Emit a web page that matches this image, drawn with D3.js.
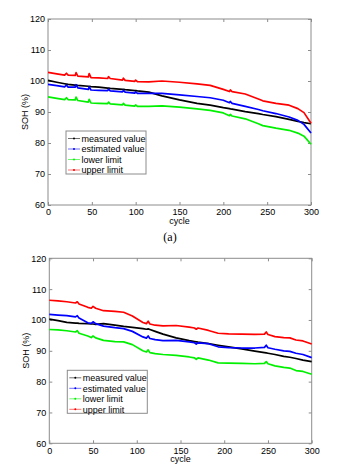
<!DOCTYPE html>
<html>
<head>
<meta charset="utf-8">
<script src="https://cdn.jsdelivr.net/npm/d3@7"></script>
<style>
  body { margin: 0; background: #fff; }
  text { font-family: "Liberation Sans", Arial, sans-serif; fill: #000; }
</style>
</head>
<body>
<svg id="chart" width="352" height="467"></svg>
<script>
// ---- data ----
const seriesNames = ["measured value", "estimated value", "lower limit", "upper limit"];
const xTicks = [0, 50, 100, 150, 200, 250, 300];
const yTicks = [60, 70, 80, 90, 100, 110, 120];

// chart (a)
const topCycles   = [0, 10, 19, 21, 23, 31, 32, 34, 46, 47, 49, 58, 68, 69, 71, 85, 86, 88, 99, 100, 102, 115, 130, 150, 170, 185, 200, 207, 208, 210, 225, 240, 245, 260, 275, 285, 292, 300];
const topMeasured = [100.2, 99.6, 99.1, 99.0, 98.9, 98.7, 98.7, 98.6, 98.3, 98.3, 98.2, 98.0, 97.7, 97.7, 97.6, 97.3, 97.3, 97.2, 96.9, 96.9, 96.8, 96.4, 95.2, 93.9, 92.8, 92.2, 91.4, 91.1, 91.0, 90.9, 90.1, 89.5, 89.2, 88.5, 87.6, 87.0, 86.6, 86.2];
const topEstimate = [98.9, 98.5, 98.1, 98.7, 98.0, 98.0, 98.8, 97.8, 97.3, 98.1, 97.1, 97.0, 96.9, 97.4, 96.8, 96.5, 97.0, 96.4, 96.1, 96.5, 96.0, 96.0, 96.0, 95.5, 95.0, 94.6, 93.8, 93.0, 93.4, 92.8, 91.8, 90.8, 90.4, 89.5, 88.4, 87.3, 86.0, 83.2];
const topLower    = [94.9, 94.4, 94.0, 94.6, 94.0, 93.9, 94.8, 93.7, 93.2, 94.1, 92.9, 92.8, 92.7, 93.2, 92.6, 92.3, 92.8, 92.2, 91.9, 92.3, 91.8, 91.8, 92.0, 91.6, 91.0, 90.5, 89.7, 88.8, 89.2, 88.7, 87.8, 86.2, 85.6, 84.8, 84.1, 83.2, 82.2, 79.6];
const topUpper    = [102.8, 102.3, 101.9, 102.5, 101.9, 101.8, 102.7, 101.6, 101.3, 102.4, 101.1, 101.0, 100.8, 101.4, 100.8, 100.3, 100.9, 100.2, 99.9, 100.3, 99.8, 99.7, 100.0, 99.6, 99.1, 98.6, 97.3, 96.6, 97.1, 96.6, 95.8, 94.2, 93.6, 92.8, 92.2, 91.1, 89.8, 86.4];

// chart (b)
const botCycles   = [0, 10, 20, 30, 32, 34, 44, 48, 50, 53, 62, 75, 85, 95, 107, 111, 113, 115, 121, 130, 145, 160, 166, 168, 170, 182, 193, 205, 220, 235, 246, 248, 250, 258, 268, 275, 282, 290, 300];
const botMeasured = [100.3, 99.8, 99.2, 99.0, 99.0, 98.9, 98.8, 98.7, 98.7, 98.6, 98.8, 98.3, 97.9, 97.6, 97.2, 97.0, 97.1, 96.9, 96.3, 95.4, 94.2, 93.3, 93.0, 92.9, 92.8, 92.3, 91.8, 91.3, 90.6, 89.9, 89.4, 89.3, 89.2, 88.8, 88.2, 87.9, 87.5, 87.0, 86.5];
const botEstimate = [101.8, 101.6, 101.4, 101.0, 101.4, 100.6, 99.1, 98.9, 99.4, 98.8, 98.0, 97.5, 97.2, 96.3, 94.5, 94.1, 94.8, 94.0, 93.6, 93.3, 93.4, 92.9, 92.6, 92.2, 92.6, 92.3, 91.3, 91.0, 90.9, 90.9, 91.1, 91.8, 91.0, 90.5, 90.0, 89.8, 89.2, 88.8, 87.8];
const botLower    = [96.9, 96.8, 96.5, 96.1, 96.5, 95.7, 94.8, 94.3, 94.8, 94.2, 93.4, 93.0, 92.9, 92.0, 90.0, 89.6, 90.3, 89.4, 89.1, 88.8, 88.5, 88.0, 87.7, 87.2, 87.7, 87.0, 86.1, 86.0, 85.9, 85.8, 85.9, 86.5, 85.8, 85.1, 84.6, 84.4, 83.6, 83.3, 82.4];
const botUpper    = [106.4, 106.2, 105.9, 105.5, 105.9, 105.2, 104.1, 103.8, 104.4, 103.8, 103.0, 102.8, 102.5, 101.3, 99.2, 98.8, 99.6, 98.7, 98.3, 98.1, 98.2, 97.7, 97.4, 97.0, 97.4, 96.6, 95.7, 95.5, 95.4, 95.3, 95.4, 96.1, 95.3, 94.6, 94.3, 94.2, 93.5, 93.2, 92.2];

const colors = ["#000000", "#0000ff", "#00f000", "#ff0000"];

const svg = d3.select("#chart");
svg.append("rect").attr("width", 352).attr("height", 467).attr("fill", "#fff");

function drawChart(box, cycles, series) {
  const x = d3.scaleLinear().domain([0, 300]).range([box.left, box.right]);
  const y = d3.scaleLinear().domain([60, 120]).range([box.bottom, box.top]);
  const g = svg.append("g");

  const axisColor = "#8c8c8c";

  // bottom axis with labels, ticks pointing inward
  const xb = g.append("g")
    .attr("transform", `translate(0,${box.bottom})`)
    .call(d3.axisBottom(x).tickValues(xTicks).tickSize(-3).tickPadding(4));
  const xt = g.append("g")
    .attr("transform", `translate(0,${box.top})`)
    .call(d3.axisTop(x).tickValues(xTicks).tickSize(-3).tickFormat(""));
  const yl = g.append("g")
    .attr("transform", `translate(${box.left},0)`)
    .call(d3.axisLeft(y).tickValues(yTicks).tickSize(-3).tickPadding(3));
  const yr = g.append("g")
    .attr("transform", `translate(${box.right},0)`)
    .call(d3.axisRight(y).tickValues(yTicks).tickSize(-3).tickFormat(""));

  [xb, xt, yl, yr].forEach(a => {
    a.select(".domain").remove();
    a.selectAll(".tick line").attr("stroke", axisColor);
    a.selectAll(".tick text")
      .style("font-family", "Liberation Sans, Arial, sans-serif")
      .style("font-size", "9px")
      .attr("fill", "#000");
  });

  g.append("rect")
    .attr("x", box.left).attr("y", box.top)
    .attr("width", box.right - box.left).attr("height", box.bottom - box.top)
    .attr("fill", "none").attr("stroke", axisColor).attr("stroke-width", 1);

  const line = d3.line()
    .x((d, i) => x(cycles[i]))
    .y(d => y(d));

  // draw in order so red is on top like the original
  series.forEach((s, i) => {
    g.append("path")
      .datum(s)
      .attr("fill", "none")
      .attr("stroke", colors[i])
      .attr("stroke-width", 1.7)
      .attr("stroke-linejoin", "round")
      .attr("d", line);
  });

  // axis titles
  g.append("text")
    .attr("transform", `translate(${box.left - 20},${(box.top + box.bottom) / 2}) rotate(-90)`)
    .attr("text-anchor", "middle")
    .style("font-size", "9px")
    .text("SOH (%)");
  g.append("text")
    .attr("x", (box.left + box.right) / 2)
    .attr("y", box.bottom + 19)
    .attr("text-anchor", "middle")
    .style("font-size", "9px")
    .text("cycle");

  // legend
  const lx = box.left + 18, ly = box.top + 112;
  const lg = g.append("g").attr("transform", `translate(${lx},${ly})`);
  lg.append("rect")
    .attr("width", 80).attr("height", 43)
    .attr("fill", "#fff").attr("stroke", "#8c8c8c").attr("stroke-width", 1);
  seriesNames.forEach((name, i) => {
    const row = lg.append("g").attr("transform", `translate(0,${7.5 + i * 10.5})`);
    row.append("line")
      .attr("x1", 2).attr("x2", 14)
      .attr("stroke", colors[i]).attr("stroke-width", 0.8).attr("opacity", 0.7);
    row.append("circle")
      .attr("cx", 8).attr("r", 1)
      .attr("fill", colors[i]);
    row.append("text")
      .attr("x", 15.5).attr("y", 3.2)
      .style("font-size", "9px")
      .text(name);
  });
}

drawChart({ left: 48, right: 311, top: 19, bottom: 205 }, topCycles,
  [topMeasured, topEstimate, topLower, topUpper]);
drawChart({ left: 49.3, right: 311.7, top: 258.3, bottom: 443.3 }, botCycles,
  [botMeasured, botEstimate, botLower, botUpper]);

svg.append("text")
  .attr("x", 170).attr("y", 241)
  .attr("text-anchor", "middle")
  .style("font-family", "Liberation Serif, Times New Roman, serif")
  .style("font-size", "12px")
  .text("(a)");
</script>
</body>
</html>
